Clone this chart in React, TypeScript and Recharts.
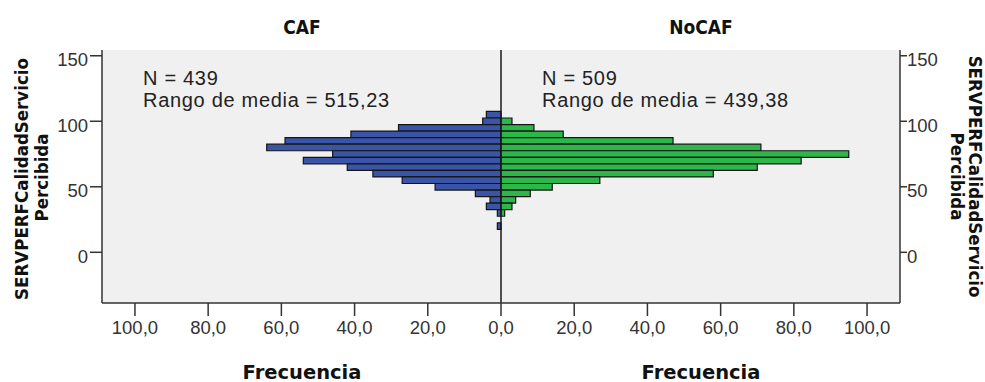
import { BarChart, Bar, XAxis, YAxis, CartesianGrid, ReferenceLine } from 'recharts';

// score bins (centre of each 5-point bin) and counts per group
const bins = [105, 100, 95, 90, 85, 80, 75, 70, 65, 60, 55, 50, 45, 40, 35, 30, 20];
const cafCounts = [4, 5, 28, 41, 59, 64, 46, 54, 42, 35, 27, 18, 7, 3, 4, 1, 1];
const noCafCounts = [0, 3, 9, 17, 47, 71, 95, 82, 70, 58, 27, 14, 8, 4, 3, 1, 0];

const freqTicks = [-100, -80, -60, -40, -20, 0, 20, 40, 60, 80, 100];
const scoreTicks = [0, 50, 100, 150];

const groups = ['CAF', 'NoCAF'];
const groupN = [439, 509];
const groupMeanRank = ['515,23', '439,38'];

const yLabel = ['SERVPERFCalidadServicio', 'Percibida'];
const xLabel = 'Frecuencia';

const data = bins.map((score, i) => ({ score, caf: -cafCounts[i], nocaf: noCafCounts[i] }));

const tickFont = { fill: '#333', fontSize: 18.5, fontFamily: '"Liberation Sans", Arial, sans-serif' };
const boldFont = '"DejaVu Sans Condensed", "DejaVu Sans", sans-serif';
const axisLine = { stroke: '#333', strokeWidth: 1.5 };

const fmtFreq = (v: number) => Math.abs(v).toFixed(1).replace('.', ',');

export default function App() {
  return (
    <div style={{ position: 'absolute', left: 0, top: 0, width: 985, height: 382, background: '#fff' }}>
      <BarChart
        width={985}
        height={382}
        data={data}
        layout="vertical"
        stackOffset="sign"
        margin={{ top: 50, right: 25, bottom: 49, left: 42 }}
      >
        <CartesianGrid horizontal={false} vertical={false} fill="#f0f0f0" />
        <XAxis
          type="number"
          domain={[-109, 109]}
          ticks={freqTicks}
          tickFormatter={fmtFreq}
          tickSize={13}
          tickMargin={5}
          height={30}
          axisLine={axisLine}
          tickLine={{ stroke: '#333', strokeWidth: 1.5 }}
          tick={tickFont}
          allowDataOverflow
        />
        <XAxis
          xAxisId="top"
          orientation="top"
          type="number"
          domain={[-109, 109]}
          height={0}
          tick={false}
          tickLine={false}
          axisLine={axisLine}
          allowDataOverflow
        />
        <YAxis
          type="number"
          dataKey="score"
          domain={[-38.7, 154.4]}
          reversed
          ticks={scoreTicks}
          width={60}
          tickSize={12}
          tickMargin={2}
          axisLine={axisLine}
          tickLine={{ stroke: '#333', strokeWidth: 1.5 }}
          tick={{ ...tickFont, dy: 4 }}
          allowDataOverflow
        />
        <YAxis
          yAxisId="right"
          orientation="right"
          type="number"
          dataKey="score"
          domain={[-38.7, 154.4]}
          reversed
          ticks={scoreTicks}
          width={60}
          tickSize={7}
          tickMargin={0}
          axisLine={axisLine}
          tickLine={{ stroke: '#333', strokeWidth: 1.5 }}
          tick={{ ...tickFont, dy: 4 }}
          allowDataOverflow
        />
        <Bar dataKey="caf" stackId="s" fill="#3A54A8" stroke="#151515" strokeWidth={1.2} barSize={6.55} isAnimationActive={false} />
        <Bar dataKey="nocaf" stackId="s" fill="#2DB74A" stroke="#151515" strokeWidth={1.2} barSize={6.55} isAnimationActive={false} />
        <ReferenceLine x={0} stroke="#1a1a1a" strokeWidth={1.5} />
      </BarChart>

      <svg width={985} height={382} style={{ position: 'absolute', left: 0, top: 0, pointerEvents: 'none' }}>
        {groups.map((g, i) => (
          <g key={g}>
            <text x={302 + i * 399} y={34} textAnchor="middle" fontFamily={boldFont} fontWeight="bold" fontSize={19} fill="#111">
              {g}
            </text>
            <text x={302 + i * 399} y={378.5} textAnchor="middle" fontFamily='"DejaVu Sans", sans-serif' fontWeight="bold" fontSize={19.5} fill="#111">
              {xLabel}
            </text>
            <text x={143 + i * 399} y={85} fontFamily='"Liberation Sans", Arial, sans-serif' fontSize={20} letterSpacing={0.7} fill="#222">
              {`N = ${groupN[i]}`}
            </text>
            <text x={143 + i * 399} y={106.5} fontFamily='"Liberation Sans", Arial, sans-serif' fontSize={20} letterSpacing={0.7} fill="#222">
              {`Rango de media = ${groupMeanRank[i]}`}
            </text>
          </g>
        ))}
        <text transform="translate(28,179) rotate(-90)" textAnchor="middle" fontFamily={boldFont} fontWeight="bold" fontSize={18.5} fill="#111">
          {yLabel[0]}
        </text>
        <text transform="translate(48.3,177.5) rotate(-90)" textAnchor="middle" fontFamily={boldFont} fontWeight="bold" fontSize={18.5} fill="#111">
          {yLabel[1]}
        </text>
        <text transform="translate(969,176.5) rotate(90)" textAnchor="middle" fontFamily={boldFont} fontWeight="bold" fontSize={18.5} fill="#111">
          {yLabel[0]}
        </text>
        <text transform="translate(951,176.5) rotate(90)" textAnchor="middle" fontFamily={boldFont} fontWeight="bold" fontSize={18.5} fill="#111">
          {yLabel[1]}
        </text>
      </svg>
    </div>
  );
}
